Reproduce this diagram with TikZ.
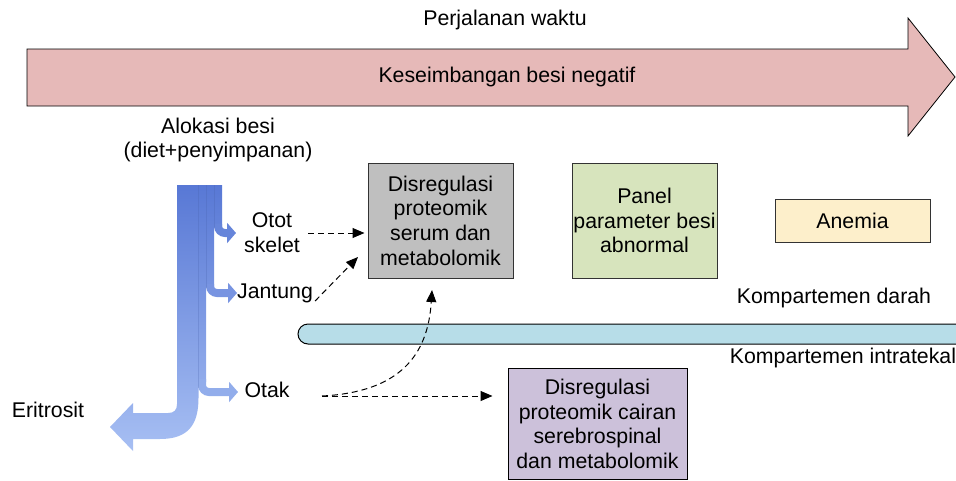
\documentclass[tikz,border=0pt]{standalone}
\usepackage{fontspec}
\setmainfont{Liberation Sans}
\usetikzlibrary{arrows.meta}

\definecolor{pinkfill}{HTML}{E6B9B8}
\definecolor{grayfill}{HTML}{BFBFBF}
\definecolor{greenfill}{HTML}{D7E4BD}
\definecolor{yellowfill}{HTML}{FDEFCB}
\definecolor{purplefill}{HTML}{CCC1DA}
\definecolor{barfill}{HTML}{B7DDE8}
\definecolor{jtop}{HTML}{5878D5}
\definecolor{jbot}{HTML}{A7BFF3}

\begin{document}
\begin{tikzpicture}[x=1pt,y=-1pt,
  font=\fontsize{21.3}{24.7}\selectfont,
  lbl/.style={align=center, inner sep=0pt},
  box/.style={draw=black!80, line width=1pt, align=center, inner sep=0pt},
  dasharrow/.style={draw=black, dash pattern=on 6pt off 4pt, line width=1pt,
    -{Triangle[length=12pt,width=10pt]}},
  strip/.style={line width=8pt, rounded corners=7pt,
    -{Triangle[length=9pt,width=20pt]}},
]
\useasboundingbox (0,0) rectangle (956,480);

% time arrow
\draw[fill=pinkfill, line width=0.8pt, line join=miter]
  (27,49) -- (908,49) -- (908,18) -- (955,77) -- (908,136) -- (908,106) -- (27,106) -- cycle;
\node[lbl] (time) at (505,20) {Perjalanan waktu};
\node[lbl] (balance) at (507,77) {Keseimbangan besi negatif};

% iron allocation
\node[lbl] (alloc) at (218,140) {Alokasi besi\\(diet+penyimpanan)};

% branch strips: shaded vertical part, then the bend with its arrow head
\shade[top color=jtop, bottom color=jbot!16!jtop] (214,185) rectangle (222,226);
\draw[strip, jbot!18!jtop] (218,224) -- (218,233) -- (236,233);
\shade[top color=jtop, bottom color=jbot!38!jtop] (206,185) rectangle (214,286);
\draw[strip, jbot!40!jtop] (210,284) -- (210,293) -- (237,293);
\shade[top color=jtop, bottom color=jbot!72!jtop] (198,185) rectangle (206,381);
\draw[strip, jbot!74!jtop] (202,379) -- (202,392) -- (238,392);

% main band to erythrocytes
\shade[top color=jtop, bottom color=jbot]
  (177,185) -- (198.5,185) -- (198.5,398)
  .. controls (198.5,425) and (188,439) .. (160,439)
  -- (133,439) -- (133,451) -- (110,427) -- (133,403) -- (133,413) -- (168,413)
  .. controls (174,413) and (177,410) .. (177,404) -- cycle;
% faint seams between the streams
\draw[jtop!80!black, opacity=0.25, line width=0.6pt] (198,185) -- (198,388) (206,185) -- (206,288) (214,185) -- (214,228);

\node[lbl] (otot) at (272,233) {Otot\\skelet};
\node[lbl] (jantung) at (275,293) {Jantung};
\node[lbl] (otak) at (267,390) {Otak};
\node[lbl] (eri) at (48,410) {Eritrosit};

% boxes
\node[box, fill=grayfill, minimum width=145pt, minimum height=115pt] (serum) at (440.5,220.5)
  {Disregulasi\\proteomik\\serum dan\\metabolomik};
\node[box, fill=greenfill, minimum width=145pt, minimum height=115pt] (panel) at (644.5,220.5)
  {Panel\\parameter besi\\abnormal};
\node[box, fill=yellowfill, minimum width=155pt, minimum height=43pt] (anemia) at (852.5,220.5)
  {Anemia};
\node[box, draw=black, fill=purplefill, minimum width=179pt, minimum height=111pt] (csf) at (597.5,424)
  {Disregulasi\\proteomik cairan\\serebrospinal\\dan metabolomik};

% blood / intrathecal separator
\fill[barfill] (956,324) -- (308,324) arc[start angle=-90, end angle=-270, radius=10] -- (956,344) -- cycle;
\draw[line width=1pt] (956,324) -- (308,324) arc[start angle=-90, end angle=-270, radius=10] -- (956,344);
\node[lbl] (darah) at (834,298) {Kompartemen darah};
\node[lbl] (intra) at (843,358) {Kompartemen intratekal};

% connectors
\coordinate (jtip) at (358,257);
\coordinate (osrc) at (322,396);
\coordinate (ctip) at (432,290);
\draw[dasharrow, shorten <=8pt, shorten >=3pt] (otot.east) -- (otot.east -| serum.west);
\draw[dasharrow] ([xshift=2pt,yshift=-8pt]jantung.east) -- (jtip);
\draw[dasharrow, shorten >=15pt] (osrc) -- (osrc -| csf.west);
\draw[dasharrow] (osrc) .. controls (400,392) and (428,355) .. (ctip);
\end{tikzpicture}
\end{document}
